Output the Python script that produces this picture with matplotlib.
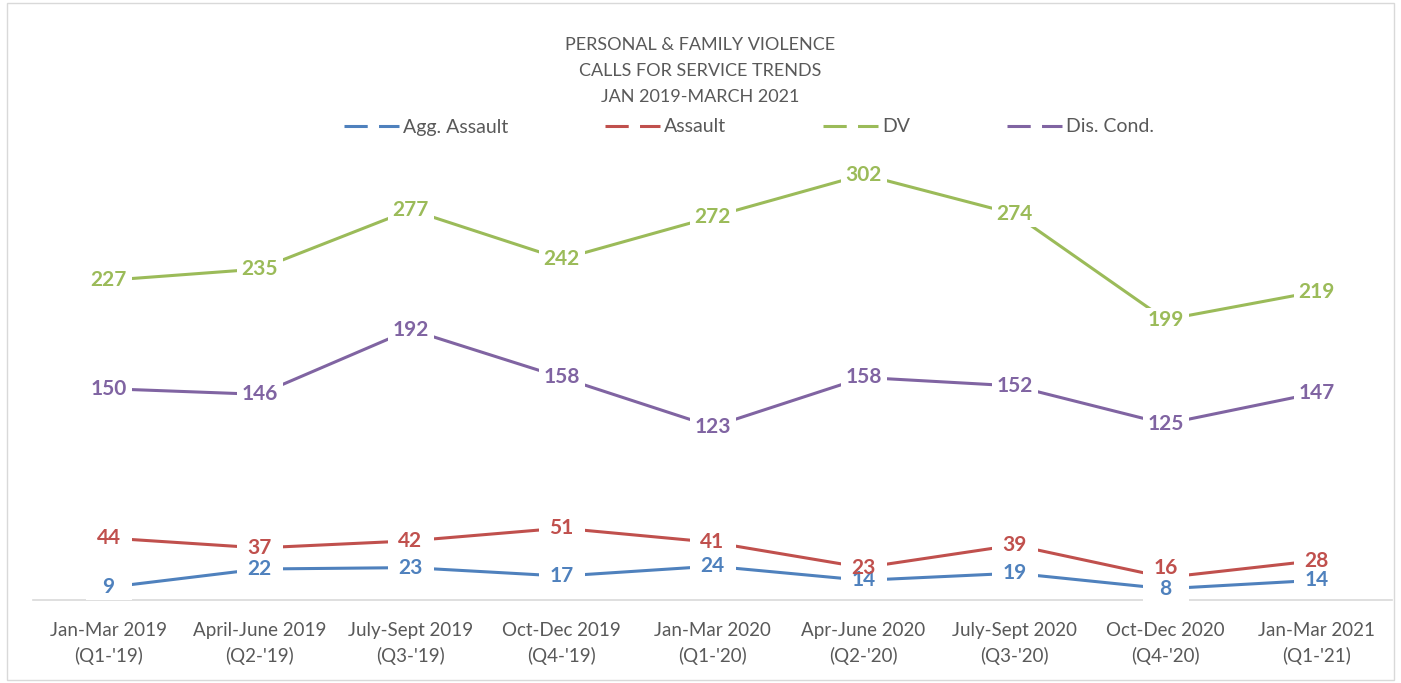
import matplotlib
matplotlib.use('Agg')
import matplotlib.pyplot as plt
from matplotlib.lines import Line2D
from matplotlib.patches import Rectangle
from matplotlib.path import Path
from matplotlib.transforms import ScaledTranslation

# quarter labels
quarters = ["Jan-Mar 2019\n(Q1-'19)", "April-June 2019\n(Q2-'19)", "July-Sept 2019\n(Q3-'19)",
            "Oct-Dec 2019\n(Q4-'19)", "Jan-Mar 2020\n(Q1-'20)", "Apr-June 2020\n(Q2-'20)",
            "July-Sept 2020\n(Q3-'20)", "Oct-Dec 2020\n(Q4-'20)", "Jan-Mar 2021\n(Q1-'21)"]

agg_assault = [9, 22, 23, 17, 24, 14, 19, 8, 14]
assault = [44, 37, 42, 51, 41, 23, 39, 16, 28]
dv = [227, 235, 277, 242, 272, 302, 274, 199, 219]
dis_cond = [150, 146, 192, 158, 123, 158, 152, 125, 147]

series = [("Agg. Assault", agg_assault, "#4F81BD"),
          ("Assault", assault, "#C0504D"),
          ("DV", dv, "#9BBB59"),
          ("Dis. Cond.", dis_cond, "#8064A2")]

# labels that were nudged in the original chart (points, upward)
label_nudge = {("Assault", 7): 7}

plt.rcParams['font.family'] = ['Lato', 'DejaVu Sans']
text_gray = '#595959'
fs_lbl = 15

fig = plt.figure(figsize=(14.01, 6.83), dpi=100)
fig.patches.append(Rectangle((0.005, 0.005), 0.99, 0.99, transform=fig.transFigure,
                             fill=False, edgecolor='#D9D9D9', linewidth=1))
ax = fig.add_axes([33 / 1401, 83 / 683, 1359 / 1401, 493 / 683])

# white label box (same size for every label, like excel does)
bw, bh = 32.5, 18
box = Path([(-bw / 2, -bh / 2), (bw / 2, -bh / 2), (bw / 2, bh / 2), (-bw / 2, bh / 2), (-bw / 2, -bh / 2)],
           closed=True)

x = list(range(len(quarters)))
handles = []
for name, vals, color in series:
    ax.plot(x, vals, color=color, linewidth=2.2, zorder=2)
    for xi, v in zip(x, vals):
        dy = label_nudge.get((name, xi), 0)
        shift = ax.transData + ScaledTranslation(0, dy / 72, fig.dpi_scale_trans)
        ax.plot([xi], [v], marker=box, markersize=bw, color='white', markeredgewidth=0,
                linestyle='none', zorder=3, transform=shift)
        ax.annotate(str(v), (xi, v), xytext=(0, dy), textcoords='offset points',
                    ha='center', va='center', color=color, fontsize=fs_lbl,
                    fontweight='bold', zorder=5)
    handles.append(Line2D([], [], color=color, linewidth=2.2, linestyle=(0, (7.6, 3.7))))

ax.set_xlim(-0.5, 8.5)
ax.set_ylim(0, 350)
ax.set_yticks([])
ax.set_xticks(x)
ax.set_xticklabels(quarters, fontsize=13.5, color=text_gray, linespacing=1.5)
ax.tick_params(axis='x', length=0, pad=16)
for s in ['top', 'right', 'left']:
    ax.spines[s].set_visible(False)
ax.spines['bottom'].set_color('#D9D9D9')
ax.spines['bottom'].set_linewidth(1.2)

fig.text(0.5, 1 - 71 / 683, "PERSONAL & FAMILY VIOLENCE\nCALLS FOR SERVICE TRENDS\nJAN 2019-MARCH 2021",
         ha='center', va='center', fontsize=13, color=text_gray, linespacing=1.78)
fig.legend(handles=handles, labels=[s[0] for s in series],
           loc='center', bbox_to_anchor=(749 / 1401, 1 - 127 / 683), ncol=4, frameon=False,
           fontsize=14, labelcolor=text_gray, handlelength=2.83, handletextpad=0.2,
           columnspacing=5.0, borderaxespad=0, borderpad=0)

fig.savefig('out.png', dpi=100)
